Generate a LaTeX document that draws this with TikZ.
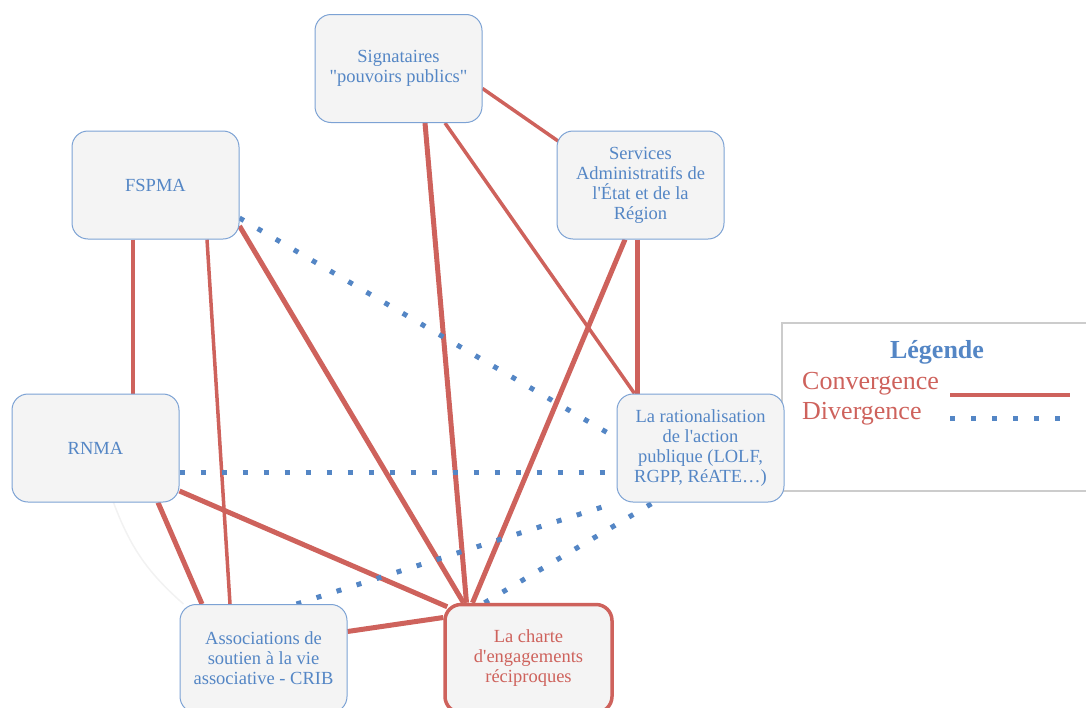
\documentclass[tikz,border=0pt]{standalone}
\usepackage{fontspec}
\setmainfont{Liberation Serif}[Ligatures=TeXOff]
\usetikzlibrary{backgrounds}

\definecolor{convred}{RGB}{206,98,92}
\definecolor{divblue}{RGB}{84,134,197}
\definecolor{boxline}{RGB}{124,162,212}
\definecolor{boxfill}{RGB}{244,244,244}
\definecolor{legline}{RGB}{204,204,204}

\newcommand{\BoxWidth}{167pt}
\newcommand{\BoxHeight}{108pt}

\tikzset{
  actor/.style={draw=boxline, fill=boxfill, line width=1pt, rounded corners=16pt,
    minimum width=\BoxWidth, minimum height=\BoxHeight, inner sep=2pt,
    align=center, text=divblue, font=\fontsize{18.5}{20}\selectfont},
  charter/.style={actor, draw=convred, line width=3.5pt, text=convred},
  conv/.style={draw=convred, line width=3.5pt},
  convthick/.style={draw=convred, line width=5pt},
  div/.style={draw=divblue, line width=5pt, dash pattern=on 5pt off 16pt},
}

\begin{document}
\begin{tikzpicture}[x=1pt,y=-1pt]
        \useasboundingbox (0,0) rectangle (1086,707);

        \draw[legline, line width=1.5pt] (782,323) rectangle (1100,491);% Legend Frame

        \node[actor] (sig) at (398.5,68.5) {Signataires\\"pouvoirs publics"};
        \node[actor] (serv) at (640.5,185) {Services\\Administratifs de\\l'État et de la\\Région};
        \node[actor] (fspma) at (155.5,185) {FSPMA};
        \node[actor] (rnma) at (95.5,448) {RNMA};
        \node[actor] (rat) at (700.5,448) {La rationalisation\\de l'action\\publique (LOLF,\\RGPP, RéATE…)};
        \node[actor] (assoc) at (263.5,658.5) {Associations de\\soutien à la vie\\associative - CRIB};
        \node[charter] (charte) at (528.5,658.5) {La charte\\d'engagements\\réciproques};

        \begin{pgfonlayer}{background}
        \draw[conv] ([yshift=-20pt]sig.east) -- ([xshift=8pt,yshift=-15pt]serv.north west);
        \draw[convthick] ([xshift=26.5pt]sig.south) -- ([xshift=-62pt]charte.north);
        \draw[conv] ([xshift=46.5pt]sig.south) -- ([xshift=-66pt]rat.north);
        \draw[convthick] ([xshift=-15.5pt]serv.south) -- ([xshift=-56pt]charte.north);
        \draw[convthick] ([xshift=-3.5pt]serv.south) -- ([xshift=-63.5pt]rat.north);
        \draw[conv] ([xshift=-22.5pt]fspma.south) -- ([xshift=37.5pt]rnma.north);
        \draw[conv] ([xshift=51.5pt]fspma.south) -- ([xshift=-33.5pt]assoc.north);
        \draw[convthick] ([yshift=-41pt]fspma.east) -- ([xshift=-65pt]charte.north);
        \draw[convthick] ([xshift=62.5pt]rnma.south) -- ([xshift=-61.5pt]assoc.north);
        \draw[convthick] ([yshift=-43pt]rnma.east) -- ([xshift=4pt,yshift=-4pt]charte.north west);
        \draw[convthick] ([yshift=27pt]assoc.east) -- ([yshift=41pt]charte.west);

        \draw[div] ([yshift=-33pt]fspma.east) -- ([yshift=10pt]rat.west);
        \draw[div] ([yshift=-24pt]rnma.east) -- ([yshift=-24pt]rat.west);
        \draw[div] ([xshift=33pt]assoc.north) -- (rat.south west);
        \draw[div] ([xshift=-44pt]charte.north) -- ([xshift=-47pt]rat.south);

        \draw[black!5, line width=1.5pt] ([xshift=18pt]rnma.south) to[bend right=14] ([xshift=-80pt]assoc.north);% faint trace
        \end{pgfonlayer}

        % Legend
        \node[anchor=base, inner sep=0pt, text=divblue, font=\fontsize{26}{30}\selectfont\bfseries] (legtitle) at (937,358) {Légende};
        \node[anchor=base west, inner sep=0pt, text=convred, font=\fontsize{26}{30}\selectfont] (legconv) at (802,389) {Convergence};
        \node[anchor=base west, inner sep=0pt, text=convred, font=\fontsize{26}{30}\selectfont] (legdiv) at (802,419) {Divergence};
        \coordinate (convA) at (950,395);
        \coordinate (convB) at (1070,395);
        \coordinate (divA) at (950,418);
        \coordinate (divB) at (1066,418);
        \draw[conv] (convA) -- (convB);
        \draw[div] (divA) -- (divB);
    \end{tikzpicture}
\end{document}
